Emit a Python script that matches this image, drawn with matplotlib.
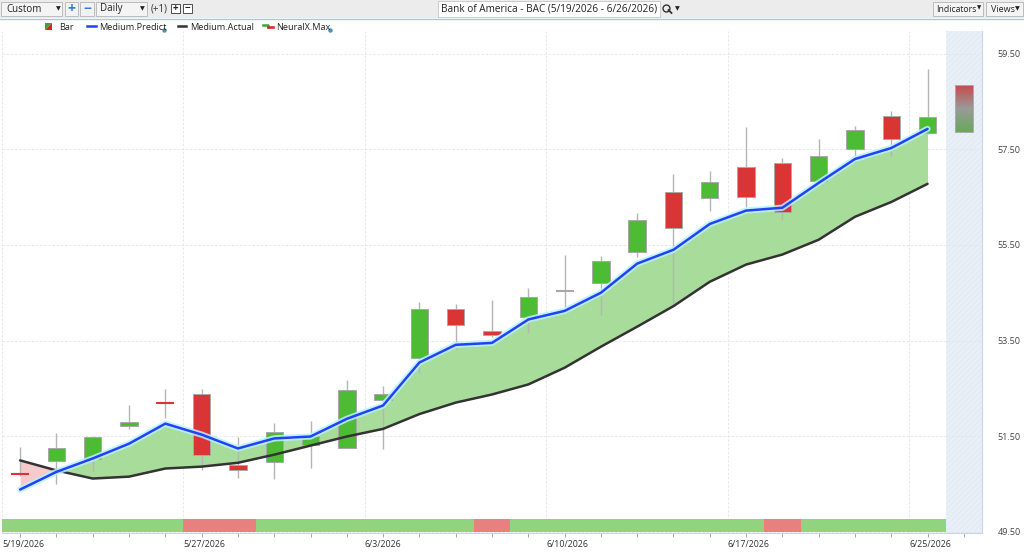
import numpy as np
import matplotlib.pyplot as plt
from matplotlib.patches import Rectangle, Polygon
from matplotlib.lines import Line2D
from matplotlib.colors import LinearSegmentedColormap

plt.rcParams['font.family'] = ['Open Sans', 'DejaVu Sans']
plt.rcParams['hatch.linewidth'] = 0.35

# trading days shown (last one is the forecast day)
days = ['5/19', '5/20', '5/21', '5/22', '5/26', '5/27', '5/28', '5/29', '6/1', '6/2',
        '6/3', '6/4', '6/5', '6/8', '6/9', '6/10', '6/11', '6/12', '6/15', '6/16',
        '6/17', '6/18', '6/22', '6/23', '6/24', '6/25', '6/26']
labeled_days = ['5/19', '5/27', '6/3', '6/10', '6/17', '6/25']

opens = [50.72, 50.98, 51.01, 51.70, 52.21, 52.39, 50.90, 50.96, 51.32, 51.26, 52.26, 53.14, 54.17,
         53.70, 54.00, 54.54, 54.71, 55.36, 56.61, 56.49, 57.14, 57.22, 56.84, 57.51, 58.20, 57.85]
highs = [51.28, 51.57, 51.50, 52.16, 52.49, 52.49, 51.49, 51.78, 51.82, 52.68, 52.55, 54.31, 54.27,
         54.35, 54.60, 55.29, 55.27, 56.17, 56.99, 57.05, 57.97, 57.32, 57.72, 57.99, 58.31, 59.19]
lows = [50.66, 50.50, 50.76, 51.65, 51.88, 50.78, 50.63, 50.61, 50.84, 51.24, 51.22, 52.81, 53.33,
        53.58, 53.66, 54.21, 54.04, 55.25, 54.29, 56.22, 56.30, 56.03, 56.78, 57.22, 57.37, 57.83]
closes = [50.70, 51.24, 51.49, 51.80, 52.19, 51.11, 50.78, 51.59, 51.51, 52.47, 52.39, 54.17, 53.83,
          53.62, 54.42, 54.54, 55.17, 56.03, 55.86, 56.82, 56.51, 56.19, 57.37, 57.91, 57.72, 58.18]

medium_predict = [50.38, 50.75, 51.03, 51.34, 51.76, 51.53, 51.24, 51.45, 51.49, 51.86, 52.14, 53.04, 53.41,
                  53.45, 53.94, 54.12, 54.50, 55.11, 55.40, 55.94, 56.22, 56.28, 56.80, 57.30, 57.53, 57.93]
medium_actual = [50.99, 50.78, 50.61, 50.65, 50.82, 50.86, 50.94, 51.11, 51.30, 51.49, 51.65, 51.96, 52.20,
                 52.37, 52.58, 52.93, 53.37, 53.79, 54.22, 54.73, 55.09, 55.30, 55.61, 56.09, 56.40, 56.78]

# NeuralX.Max forecast range for the next day
neural_max_high = 58.85
neural_max_low = 57.87

# bottom strip signal: 1 = green, 0 = red
signal = [1, 1, 1, 1, 1, 0, 0, 1, 1, 1, 1, 1, 1, 0, 1, 1, 1, 1, 1, 1, 1, 0, 1, 1, 1, 1]

price_ticks = [49.50, 51.50, 53.50, 55.50, 57.50, 59.50]

W, H = 1024, 553
fig = plt.figure(figsize=(W / 100, H / 100), dpi=100)
ax = fig.add_axes([2 / W, (H - 533) / H, 980 / W, 502 / H])

n = len(opens)
x = np.arange(n)

# forecast area
ax.axvspan(n - 0.5, n + 0.5, facecolor='#e9eff7', edgecolor='#dce5f0', hatch='//////', lw=0, zorder=0)

# fill between predict and actual
pred = np.array(medium_predict)
act = np.array(medium_actual)
ax.fill_between(x, pred, act, where=pred >= act, interpolate=True, color='#a8dc9a', lw=0, zorder=1.5)
ax.fill_between(x, pred, act, where=pred < act, interpolate=True, color='#f6caca', lw=0, zorder=1.5)

# candles
green, red = '#4dbb34', '#d93535'
for i in range(n):
    o, h, l, c = opens[i], highs[i], lows[i], closes[i]
    ax.vlines(i, l, h, color='#b5b5b5', lw=1, zorder=2)
    if abs(c - o) < 0.05:
        col = red if c < o else (green if c > o else '#a8a8a8')
        ax.hlines((o + c) / 2, i - 0.25, i + 0.25, color=col, lw=1.5, zorder=3)
    else:
        ax.add_patch(Rectangle((i - 0.24, min(o, c)), 0.48, abs(c - o),
                               facecolor=green if c > o else red, edgecolor='#a8a8a8', lw=0.7, zorder=3))

# lines
ax.plot(x, act, color='#333333', lw=1.8, zorder=4, solid_capstyle='round')
ax.plot(x, pred, color='#b6f3ff', lw=4.5, alpha=0.85, zorder=4.5, solid_capstyle='round')
ax.plot(x, pred, color='#2541f5', lw=1.8, zorder=5, solid_capstyle='round')

# forecast gradient bar
cmap = LinearSegmentedColormap.from_list('nx', ['#67a95a', '#9a9a9a', '#c64b4b'])
grad = np.linspace(0, 1, 100).reshape(-1, 1)
ax.imshow(grad, cmap=cmap, origin='lower', aspect='auto', zorder=3,
          extent=[n - 0.24, n + 0.24, neural_max_low, neural_max_high])
ax.add_patch(Rectangle((n - 0.24, neural_max_low), 0.48, neural_max_high - neural_max_low,
                       facecolor='none', edgecolor='#aaaaaa', lw=0.7, zorder=3.5))

# bottom signal strip
ax.bar(x, 0.26, width=1.0, bottom=49.50,
       color=['#92d37f' if s else '#e88080' for s in signal], lw=0, zorder=2)

ax.set_xlim(-0.5, n + 0.5)
ax.set_ylim(49.47, 59.98)

# axes styling
major = [days.index(d) - 0.5 for d in labeled_days]
ax.set_xticks(major)
ax.set_xticklabels([d + '/2026' for d in labeled_days], ha='left', fontsize=6.4, color='#333333')
ax.set_xticks(np.arange(n + 1), minor=True)
ax.tick_params(axis='x', which='major', length=0, pad=5)
ax.tick_params(axis='x', which='minor', length=3, width=0.6, color='#999999')

ax.yaxis.tick_right()
ax.set_yticks(price_ticks)
ax.set_yticklabels([f'{p:.2f}' for p in price_ticks], fontsize=6.5, color='#444444')
ax.tick_params(axis='y', length=0, pad=11)

ax.grid(True, which='major', color='#e4e4e4', lw=0.6, ls=(0, (3, 2)), zorder=0)
ax.set_axisbelow(True)
for s in ['left', 'top']:
    ax.spines[s].set_visible(False)
for s in ['right', 'bottom']:
    ax.spines[s].set_color('#c5d6ea')
    ax.spines[s].set_linewidth(0.8)


# ---- toolbar and legend (pixel helpers) ----
def fx(px):
    return px / W


def fy(py):
    return 1 - py / H


def box(x0, y0, x1, y1, **kw):
    fig.add_artist(Rectangle((fx(x0), fy(y1)), (x1 - x0) / W, (y1 - y0) / H,
                             transform=fig.transFigure, **kw))


def txt(px, py, s, **kw):
    kw.setdefault('va', 'center')
    kw.setdefault('fontsize', 7)
    kw.setdefault('color', '#222222')
    fig.text(fx(px), fy(py), s, **kw)


def pline(xs, ys, **kw):
    fig.add_artist(Line2D([fx(v) for v in xs], [fy(v) for v in ys], transform=fig.transFigure, **kw))


box(0, 0, W, 18, facecolor='#ececec', edgecolor='none')
pline([0, W], [18.5, 18.5], color='#a9c6e6', lw=1)

box(1, 2, 62, 16, facecolor='#f4f4f4', edgecolor='#b4b4b4', lw=0.6)
txt(6, 9, 'Custom')
txt(58, 9, '▼', fontsize=4.5, ha='center')
box(65, 2, 78, 16, facecolor='#f2f2f2', edgecolor='#b4b4b4', lw=0.6)
txt(71.5, 9, '+', fontsize=10, ha='center', color='#2f7fd6', fontweight='bold')
box(80, 2, 94, 16, facecolor='#f2f2f2', edgecolor='#b4b4b4', lw=0.6)
txt(87, 9, '−', fontsize=10, ha='center', color='#2f7fd6', fontweight='bold')
box(96, 2, 147, 16, facecolor='#f4f4f4', edgecolor='#b4b4b4', lw=0.6)
txt(100, 9, 'Daily')
txt(142, 9, '▼', fontsize=4.5, ha='center')
txt(151, 9, '(+1)', color='#333333')
box(171, 4, 180, 13, facecolor='white', edgecolor='#333333', lw=0.6)
txt(175.5, 8.5, '+', fontsize=7, ha='center', fontweight='bold')
box(183, 4, 192, 13, facecolor='white', edgecolor='#333333', lw=0.6)
txt(187.5, 8.5, '−', fontsize=7, ha='center', fontweight='bold')

box(438, 1, 660, 17, facecolor='white', edgecolor='#c4c4c4', lw=0.6)
txt(549, 9, 'Bank of America - BAC (5/19/2026 - 6/26/2026)', ha='center', fontsize=7.2)
fig.add_artist(Line2D([fx(666)], [fy(7.5)], marker='o', markersize=5, markerfacecolor='none',
                      markeredgecolor='#333333', markeredgewidth=1, transform=fig.transFigure))
pline([668.5, 671.5], [10, 13], color='#333333', lw=1.3)
txt(677, 9, '▼', fontsize=4.5, ha='center')

box(933, 2, 983, 16, facecolor='#f4f4f4', edgecolor='#b4b4b4', lw=0.6)
txt(936, 9, 'Indicators', fontsize=6.2)
txt(979.5, 8, '▼', fontsize=4, ha='center')
box(986, 2, 1023, 16, facecolor='#f4f4f4', edgecolor='#b4b4b4', lw=0.6)
txt(991, 9, 'Views', fontsize=6.5)
txt(1017, 9, '▼', fontsize=4.5, ha='center')

# legend
ly = 27
fig.add_artist(Polygon([(fx(45), fy(23)), (fx(52), fy(23)), (fx(45), fy(30))], closed=True,
                       facecolor='#33aa33', edgecolor='none', transform=fig.transFigure))
fig.add_artist(Polygon([(fx(52), fy(23)), (fx(52), fy(30)), (fx(45), fy(30))], closed=True,
                       facecolor='#dd2222', edgecolor='none', transform=fig.transFigure))
txt(59, ly, 'Bar', fontsize=6.6)
pline([87, 96], [26, 26], color='#2541f5', lw=1.8)
txt(99, ly, 'Medium.Predict', fontsize=6.6)
fig.add_artist(Line2D([fx(163.5)], [fy(29.5)], marker='o', markersize=2.2, color='#4f8fb0',
                      transform=fig.transFigure))
pline([178, 186], [26, 26], color='#333333', lw=1.8)
txt(190, ly, 'Medium.Actual', fontsize=6.6)
pline([263, 268, 268], [25, 25, 27], color='#33aa33', lw=1.8)
pline([268, 273], [27, 27], color='#dd2222', lw=1.8)
txt(276, ly, 'NeuralX.Max', fontsize=6.6)
fig.add_artist(Line2D([fx(329.5)], [fy(29.5)], marker='o', markersize=2.2, color='#4f8fb0',
                      transform=fig.transFigure))

fig.savefig('out.png', dpi=100)
